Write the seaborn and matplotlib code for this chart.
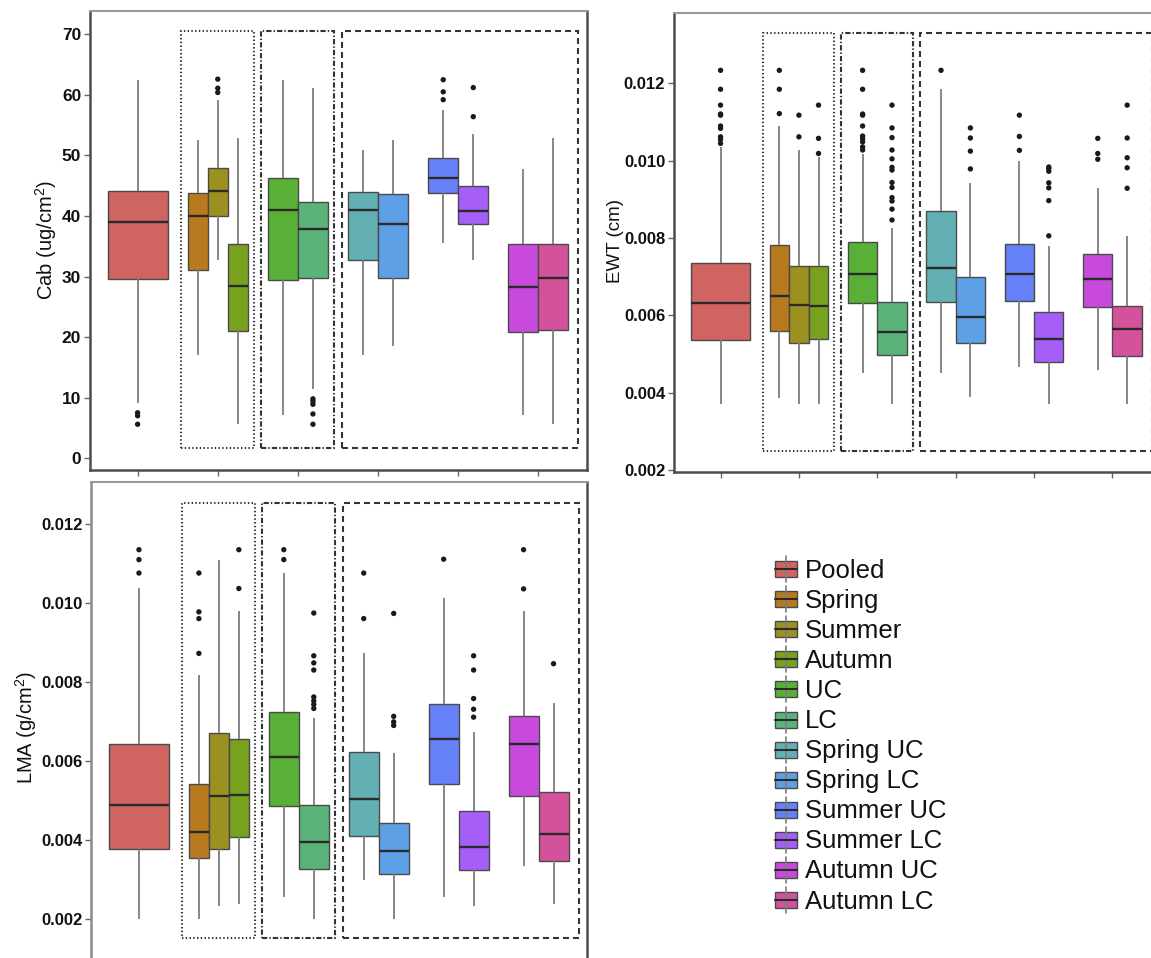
import numpy as np
import pandas as pd
import matplotlib
matplotlib.use("Agg")
import matplotlib.pyplot as plt
import seaborn as sns
from matplotlib.patches import Rectangle
from matplotlib.lines import Line2D

# ---------------- data ----------------
labels = ["Pooled", "Spring", "Summer", "Autumn", "UC", "LC",
          "Spring UC", "Spring LC", "Summer UC", "Summer LC",
          "Autumn UC", "Autumn LC"]
groups = [1, 2, 2, 2, 3, 3, 4, 4, 5, 5, 6, 6]

cab_lo  = [9.1, 17.1, 32.8, 5.7, 7.1, 11.4, 17.1, 18.6, 35.5, 32.8, 7.1, 5.7]
cab_q1  = [29.6, 31.1, 40.0, 21.0, 29.4, 29.8, 32.8, 29.8, 43.8, 38.6, 20.9, 21.1]
cab_med = [39.0, 40.0, 44.1, 28.5, 41.0, 37.8, 41.0, 38.6, 46.3, 40.9, 28.2, 29.8]
cab_q3  = [44.2, 43.8, 47.9, 35.4, 46.2, 42.3, 43.9, 43.7, 49.5, 45.0, 35.3, 35.4]
cab_hi  = [62.5, 52.6, 59.2, 52.9, 62.5, 61.2, 50.9, 52.5, 57.5, 53.5, 47.8, 52.9]
cab_out = [[7.5, 7.0, 5.6], [], [62.6, 61.1, 60.4], [], [],
           [9.8, 9.4, 8.9, 7.3, 5.6], [], [], [62.5, 60.5, 59.2],
           [61.2, 56.4], [], []]

ewt_lo  = [0.00371, 0.00387, 0.00371, 0.00371, 0.00452, 0.00371,
           0.00452, 0.00388, 0.00467, 0.00371, 0.00460, 0.00371]
ewt_q1  = [0.00537, 0.00560, 0.00528, 0.00539, 0.00632, 0.00499,
           0.00635, 0.00528, 0.00638, 0.00480, 0.00622, 0.00495]
ewt_med = [0.00633, 0.00651, 0.00628, 0.00625, 0.00706, 0.00557,
           0.00723, 0.00596, 0.00706, 0.00538, 0.00694, 0.00564]
ewt_q3  = [0.00737, 0.00782, 0.00728, 0.00728, 0.00789, 0.00634,
           0.00869, 0.00700, 0.00784, 0.00608, 0.00758, 0.00624]
ewt_hi  = [0.01036, 0.01090, 0.01028, 0.01009, 0.01017, 0.00827,
           0.01186, 0.00943, 0.01000, 0.00779, 0.00929, 0.00806]
ewt_out = [
    [0.01234, 0.01185, 0.01144, 0.01121, 0.01118, 0.01090, 0.01084, 0.01062, 0.01055, 0.01045],
    [0.01234, 0.01185, 0.01122],
    [0.01118, 0.01062],
    [0.01144, 0.01058, 0.01019],
    [0.01234, 0.01185, 0.01121, 0.01118, 0.01090, 0.01064, 0.01057, 0.01049, 0.01036, 0.01028],
    [0.01144, 0.01085, 0.01060, 0.01028, 0.01005, 0.00983, 0.00976, 0.00944, 0.00931,
     0.00905, 0.00896, 0.00875, 0.00847],
    [0.01234],
    [0.01085, 0.01059, 0.01025, 0.00979],
    [0.01118, 0.01063, 0.01027],
    [0.00984, 0.00980, 0.00973, 0.00943, 0.00930, 0.00897, 0.00806],
    [0.01058, 0.01019, 0.01004],
    [0.01144, 0.01059, 0.01008, 0.00982, 0.00929],
]

lma_lo  = [0.00200, 0.00200, 0.00234, 0.00238, 0.00257, 0.00200,
           0.00299, 0.00200, 0.00257, 0.00234, 0.00335, 0.00238]
lma_q1  = [0.00379, 0.00354, 0.00379, 0.00409, 0.00487, 0.00327,
           0.00410, 0.00314, 0.00542, 0.00326, 0.00511, 0.00348]
lma_med = [0.00489, 0.00421, 0.00511, 0.00514, 0.00611, 0.00396,
           0.00503, 0.00372, 0.00655, 0.00382, 0.00644, 0.00417]
lma_q3  = [0.00644, 0.00541, 0.00672, 0.00657, 0.00723, 0.00489,
           0.00622, 0.00444, 0.00743, 0.00474, 0.00713, 0.00521]
lma_hi  = [0.01036, 0.00817, 0.01109, 0.00979, 0.01075, 0.00710,
           0.00872, 0.00621, 0.01012, 0.00674, 0.00979, 0.00747]
lma_out = [
    [0.01134, 0.01109, 0.01075],
    [0.01075, 0.00977, 0.00960, 0.00872],
    [],
    [0.01134, 0.01036],
    [0.01134, 0.01109],
    [0.00974, 0.00866, 0.00848, 0.00830, 0.00762, 0.00752, 0.00743, 0.00733],
    [0.01075, 0.00960],
    [0.00973, 0.00713, 0.00699, 0.00690],
    [0.01110],
    [0.00866, 0.00830, 0.00758, 0.00731, 0.00711],
    [0.01134, 0.01035],
    [0.00846],
]

cab_ticks = [0, 10, 20, 30, 40, 50, 60, 70]
mass_ticks = [0.002, 0.004, 0.006, 0.008, 0.010, 0.012]

# ---------------- style ----------------
palette = {
    "Pooled": "#CF6460", "Spring": "#B87A1E", "Summer": "#9C9020",
    "Autumn": "#78A21E", "UC": "#58B036", "LC": "#5AB47A",
    "Spring UC": "#62B0B4", "Spring LC": "#5EA0E6", "Summer UC": "#6680F8",
    "Summer LC": "#A65EF8", "Autumn UC": "#C84ADC", "Autumn LC": "#D4529C",
}
EDGE = "#4a4a4a"
MED = "#2a2a2a"
WHISK = "#7d7d7d"
DARK = "#333333"

sns.set_theme(style="white")
plt.rcParams["font.family"] = ["Liberation Sans", "DejaVu Sans"]
plt.rcParams["mathtext.fontset"] = "custom"
plt.rcParams["mathtext.rm"] = "Liberation Sans"
plt.rcParams["mathtext.it"] = "Liberation Sans:italic"
plt.rcParams["mathtext.bf"] = "Liberation Sans:bold"
plt.rcParams["lines.scale_dashes"] = False

W, H = 1151, 958
fig = plt.figure(figsize=(W / 100, H / 100), dpi=100)


def px_axes(l, t, r, b):
    return fig.add_axes([l / W, 1 - b / H, (r - l) / W, (b - t) / H])


# dodge positions: every group spans 0.75 units
pos = [0.0] * len(labels)
wid = [0.0] * len(labels)
for g in sorted(set(groups)):
    members = [i for i, gg in enumerate(groups) if gg == g]
    n = len(members)
    w = 0.75 / n
    for k, i in enumerate(members):
        pos[i] = g + (k - (n - 1) / 2) * w
        wid[i] = w


def draw_panel(ax, lo, q1, med, q3, hi, outs, ylim, rect_y, ticks, tickfmt, tsize,
               left_color="#4d4d4d"):
    for i, lab in enumerate(labels):
        df = pd.DataFrame({"x": [pos[i]] * 5,
                           "y": [lo[i], q1[i], med[i], q3[i], hi[i]]})
        sns.boxplot(data=df, x="x", y="y", native_scale=True, orient="x",
                    width=wid[i], color=palette[lab], saturation=1,
                    whis=(0, 100), fliersize=0, linecolor=EDGE, linewidth=1.0,
                    showcaps=False,
                    medianprops=dict(color=MED, linewidth=1.7),
                    whiskerprops=dict(color=WHISK, linewidth=1.3),
                    ax=ax)
        if outs[i]:
            sns.scatterplot(x=[pos[i]] * len(outs[i]), y=outs[i], color="#1a1a1a",
                            s=15, edgecolor="none", legend=False, ax=ax, zorder=4)
    # group frames
    y0, y1 = rect_y
    styles = [(1.54, 2.45, (0, (1.0, 1.7))),
              (2.54, 3.45, (0, (3.8, 1.5, 1.0, 1.5))),
              (3.55, 6.50, (0, (4.3, 2.9)))]
    for x0, x1, ls in styles:
        ax.add_patch(Rectangle((x0, y0), x1 - x0, y1 - y0, fill=False,
                               ec=DARK, lw=1.5, ls=ls, zorder=1))
    ax.set_xlim(0.4, 6.6)
    ax.set_ylim(*ylim)
    ax.set_xticks(range(1, 7))
    ax.set_xticklabels([])
    ax.set_yticks(ticks)
    ax.set_yticklabels([tickfmt.format(t) for t in ticks], fontweight="bold",
                       fontsize=tsize, color="#111111")
    ax.set_xlabel("")
    ax.set_ylabel("")
    ax.tick_params(axis="both", which="both", bottom=True, left=True,
                   direction="out", length=4.5, width=1.0, color="#666666", pad=1.5)
    for side in ["bottom", "right"]:
        ax.spines[side].set_color("#4d4d4d")
        ax.spines[side].set_linewidth(1.8)
    ax.spines["left"].set_color(left_color)
    ax.spines["left"].set_linewidth(1.8)
    ax.spines["top"].set_color("#9a9a9a")
    ax.spines["top"].set_linewidth(1.5)
    ax.set_facecolor("white")


ax_cab = px_axes(89.5, 11, 586.5, 469.5)
draw_panel(ax_cab, cab_lo, cab_q1, cab_med, cab_q3, cab_hi, cab_out,
           (-1.87, 73.85), (1.65, 70.6), cab_ticks, "{:d}", 12.5)

ax_ewt = px_axes(673.5, 12.7, 1159.5, 471.7)
draw_panel(ax_ewt, ewt_lo, ewt_q1, ewt_med, ewt_q3, ewt_hi, ewt_out,
           (0.00196, 0.01383), (0.0025, 0.01331), mass_ticks, "{:.3f}", 12)

ax_lma = px_axes(91, 482, 586.5, 961)
draw_panel(ax_lma, lma_lo, lma_q1, lma_med, lma_q3, lma_hi, lma_out,
           (0.00095, 0.01305), (0.00152, 0.01251), mass_ticks, "{:.3f}", 12,
           left_color="#8a8a8a")

# axis titles
fig.text(46 / W, 1 - 240 / H, "Cab (ug/cm$^2$)", rotation=90, ha="center",
         va="center", fontsize=14.5, color="#111111")
fig.text(615 / W, 1 - 241 / H, "EWT (cm)", rotation=90, ha="center",
         va="center", fontsize=13.5, color="#111111")
fig.text(26 / W, 1 - 727 / H, "LMA (g/cm$^2$)", rotation=90, ha="center",
         va="center", fontsize=14.5, color="#111111")

# legend (boxplot key glyphs)
for i, lab in enumerate(labels):
    yc = 569 + 30.1 * i
    x0, x1 = 775, 797
    fig.add_artist(Line2D([(x0 + x1) / 2 / W] * 2, [1 - (yc - 13) / H, 1 - (yc + 13) / H],
                          color=WHISK, lw=1.2, transform=fig.transFigure))
    fig.add_artist(Rectangle((x0 / W, 1 - (yc + 8) / H), (x1 - x0) / W, 16 / H,
                             fc=palette[lab], ec=EDGE, lw=1.0, transform=fig.transFigure))
    fig.add_artist(Line2D([x0 / W, x1 / W], [1 - yc / H] * 2, color=MED, lw=1.5,
                          transform=fig.transFigure))
    fig.text(805 / W, 1 - (yc + 1.5) / H, lab, ha="left", va="center",
             fontsize=18.5, color="#111111")

fig.savefig("out.png", dpi=100)
